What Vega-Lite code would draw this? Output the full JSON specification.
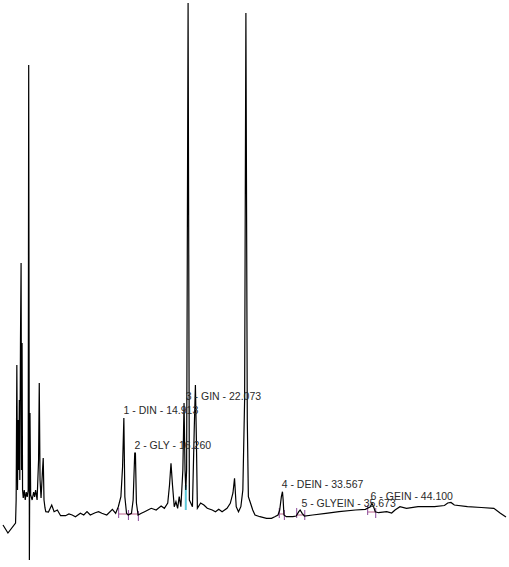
{
  "$schema": "https://vega.github.io/schema/vega-lite/v6.json",
  "width": 509,
  "height": 567,
  "padding": 0,
  "autosize": {"type": "fit", "contains": "padding"},
  "background": "white",
  "config": {"view": {"stroke": null}},
  "datasets": {
    "trace": [
      {"t": 0.692, "s": 5}, {"t": 1.273, "s": -3}, {"t": 2.169, "s": 7}, {"t": 2.239, "s": 30},
      {"t": 2.320, "s": 165}, {"t": 2.401, "s": 40}, {"t": 2.471, "s": 110}, {"t": 2.552, "s": 60},
      {"t": 2.611, "s": 130}, {"t": 2.669, "s": 50}, {"t": 2.750, "s": 190}, {"t": 2.820, "s": 267},
      {"t": 2.878, "s": 60}, {"t": 2.936, "s": 187}, {"t": 2.994, "s": 40}, {"t": 3.076, "s": 32},
      {"t": 3.192, "s": 40}, {"t": 3.308, "s": 30}, {"t": 3.425, "s": 38}, {"t": 3.541, "s": 33},
      {"t": 3.657, "s": 40}, {"t": 3.715, "s": 465}, {"t": 3.797, "s": -30}, {"t": 3.866, "s": 117},
      {"t": 3.948, "s": 35}, {"t": 4.122, "s": 30}, {"t": 4.297, "s": 38}, {"t": 4.413, "s": 33},
      {"t": 4.529, "s": 40}, {"t": 4.704, "s": 30}, {"t": 4.878, "s": 70}, {"t": 4.959, "s": 147},
      {"t": 5.052, "s": 50}, {"t": 5.169, "s": 32}, {"t": 5.343, "s": 60}, {"t": 5.425, "s": 72},
      {"t": 5.518, "s": 30}, {"t": 5.634, "s": 22}, {"t": 5.727, "s": 18.3}, {"t": 6.041, "s": 18},
      {"t": 6.425, "s": 25}, {"t": 6.704, "s": 18.3}, {"t": 7.087, "s": 20}, {"t": 7.471, "s": 14.3},
      {"t": 8.052, "s": 14.3}, {"t": 8.448, "s": 16}, {"t": 8.832, "s": 15}, {"t": 9.215, "s": 13.3},
      {"t": 9.797, "s": 16.7}, {"t": 10.192, "s": 15}, {"t": 10.576, "s": 18.3}, {"t": 10.959, "s": 15},
      {"t": 11.541, "s": 17.3}, {"t": 11.936, "s": 18.3}, {"t": 12.320, "s": 16.7}, {"t": 12.901, "s": 15},
      {"t": 13.564, "s": 20.7}, {"t": 13.948, "s": 16.7}, {"t": 14.262, "s": 23.3}, {"t": 14.564, "s": 33.3},
      {"t": 14.762, "s": 63.3}, {"t": 14.913, "s": 112}, {"t": 15.029, "s": 33.3}, {"t": 15.227, "s": 16.7},
      {"t": 15.425, "s": 15}, {"t": 15.808, "s": 16.7}, {"t": 16.006, "s": 30}, {"t": 16.192, "s": 77},
      {"t": 16.273, "s": 77}, {"t": 16.390, "s": 27}, {"t": 16.587, "s": 15}, {"t": 16.971, "s": 16.7},
      {"t": 17.355, "s": 18.3}, {"t": 17.750, "s": 20}, {"t": 18.134, "s": 21.7}, {"t": 18.715, "s": 20},
      {"t": 19.297, "s": 24}, {"t": 19.680, "s": 21.7}, {"t": 20.076, "s": 27}, {"t": 20.285, "s": 45},
      {"t": 20.459, "s": 66.7}, {"t": 20.634, "s": 45}, {"t": 20.843, "s": 23.3}, {"t": 21.041, "s": 28.3},
      {"t": 21.239, "s": 21.7}, {"t": 21.425, "s": 33.3}, {"t": 21.622, "s": 23.3}, {"t": 21.855, "s": 60},
      {"t": 21.994, "s": 127}, {"t": 22.111, "s": 60}, {"t": 22.204, "s": 40}, {"t": 22.297, "s": 60},
      {"t": 22.471, "s": 527}, {"t": 22.622, "s": 30}, {"t": 22.785, "s": 27}, {"t": 22.983, "s": 23.3},
      {"t": 23.192, "s": 100}, {"t": 23.332, "s": 145}, {"t": 23.448, "s": 90}, {"t": 23.564, "s": 21.7},
      {"t": 23.948, "s": 27}, {"t": 24.332, "s": 25}, {"t": 24.727, "s": 21.7}, {"t": 25.308, "s": 20},
      {"t": 25.692, "s": 18.3}, {"t": 26.076, "s": 20.7}, {"t": 26.471, "s": 18.3}, {"t": 27.052, "s": 21.7},
      {"t": 27.436, "s": 26.7}, {"t": 27.750, "s": 37}, {"t": 27.936, "s": 51.7}, {"t": 28.134, "s": 23.3},
      {"t": 28.401, "s": 18.3}, {"t": 28.680, "s": 23.3}, {"t": 28.913, "s": 40}, {"t": 29.122, "s": 130},
      {"t": 29.273, "s": 517}, {"t": 29.436, "s": 110}, {"t": 29.564, "s": 33.3}, {"t": 29.762, "s": 28.3},
      {"t": 30.076, "s": 20}, {"t": 30.343, "s": 15}, {"t": 30.925, "s": 13.3}, {"t": 31.704, "s": 11.7},
      {"t": 32.285, "s": 11.7}, {"t": 32.669, "s": 13.3}, {"t": 33.052, "s": 15}, {"t": 33.250, "s": 20},
      {"t": 33.448, "s": 33.3}, {"t": 33.576, "s": 38.3}, {"t": 33.657, "s": 30}, {"t": 33.750, "s": 15},
      {"t": 34.029, "s": 13.3}, {"t": 34.797, "s": 13.3}, {"t": 35.192, "s": 14}, {"t": 35.494, "s": 18.3},
      {"t": 35.657, "s": 20}, {"t": 35.890, "s": 16.7}, {"t": 36.157, "s": 14}, {"t": 37.122, "s": 15},
      {"t": 38.680, "s": 16.7}, {"t": 40.227, "s": 18.3}, {"t": 42.169, "s": 20}, {"t": 43.332, "s": 20.7},
      {"t": 43.913, "s": 23.3}, {"t": 44.099, "s": 26.7}, {"t": 44.297, "s": 23.3}, {"t": 44.494, "s": 18.3},
      {"t": 44.878, "s": 17.3}, {"t": 45.843, "s": 18.3}, {"t": 46.425, "s": 17}, {"t": 46.820, "s": 20},
      {"t": 47.401, "s": 23.3}, {"t": 48.169, "s": 21.7}, {"t": 49.529, "s": 23.3}, {"t": 51.471, "s": 23.3},
      {"t": 52.634, "s": 24.5}, {"t": 53.018, "s": 27}, {"t": 53.401, "s": 27.5}, {"t": 53.797, "s": 25},
      {"t": 55.343, "s": 23.3}, {"t": 56.971, "s": 22.5}, {"t": 58.448, "s": 21.7}, {"t": 59.215, "s": 16.7},
      {"t": 59.878, "s": 13}
    ],
    "baselines": [
      {"t1": 14.30, "t2": 15.45, "s": 16},
      {"t1": 15.50, "t2": 16.62, "s": 16},
      {"t1": 33.20, "t2": 33.80, "s": 16},
      {"t1": 35.25, "t2": 36.20, "s": 15},
      {"t1": 43.60, "t2": 44.55, "s": 18}
    ],
    "ticks": [
      {"t": 14.30, "s1": 12, "s2": 22},
      {"t": 15.45, "s1": 10, "s2": 20},
      {"t": 16.62, "s1": 9, "s2": 19},
      {"t": 33.20, "s1": 12, "s2": 22},
      {"t": 33.80, "s1": 10, "s2": 20},
      {"t": 35.25, "s1": 12, "s2": 22},
      {"t": 36.20, "s1": 10, "s2": 20},
      {"t": 43.60, "s1": 15, "s2": 25},
      {"t": 44.55, "s1": 12, "s2": 22}
    ],
    "fills": [
      {"t": 22.20, "s1": 20, "s2": 45}
    ],
    "labels": [
      {"t": 14.878, "s": 119, "label": "1 - DIN - 14.913"},
      {"t": 16.157, "s": 84, "label": "2 - GLY - 16.260"},
      {"t": 22.204, "s": 133, "label": "3 - GIN - 22.073"},
      {"t": 33.483, "s": 45, "label": "4 - DEIN - 33.567"},
      {"t": 35.808, "s": 26, "label": "5 - GLYEIN - 35.673"},
      {"t": 43.948, "s": 33, "label": "6 - GEIN - 44.100"}
    ]
  },
  "layer": [
    {
      "data": {"name": "fills"},
      "mark": {"type": "rule", "color": "#5cc8d8", "strokeWidth": 2},
      "encoding": {
        "x": {"field": "t", "type": "quantitative", "scale": {"domain": [0.692, 59.878], "nice": false, "zero": false}, "axis": null},
        "y": {"field": "s1", "type": "quantitative", "scale": {"domain": [-37, 530], "nice": false, "zero": false}, "axis": null},
        "y2": {"field": "s2"}
      }
    },
    {
      "data": {"name": "baselines"},
      "mark": {"type": "rule", "color": "#b8608c", "strokeWidth": 1},
      "encoding": {
        "x": {"field": "t1", "type": "quantitative", "scale": {"domain": [0.692, 59.878], "nice": false, "zero": false}, "axis": null},
        "x2": {"field": "t2"},
        "y": {"field": "s", "type": "quantitative", "scale": {"domain": [-37, 530], "nice": false, "zero": false}, "axis": null}
      }
    },
    {
      "data": {"name": "ticks"},
      "mark": {"type": "rule", "color": "#8a4a9a", "strokeWidth": 1},
      "encoding": {
        "x": {"field": "t", "type": "quantitative", "scale": {"domain": [0.692, 59.878], "nice": false, "zero": false}, "axis": null},
        "y": {"field": "s1", "type": "quantitative", "scale": {"domain": [-37, 530], "nice": false, "zero": false}, "axis": null},
        "y2": {"field": "s2"}
      }
    },
    {
      "data": {"name": "trace"},
      "mark": {"type": "line", "color": "#000000", "strokeWidth": 1.2, "interpolate": "linear"},
      "encoding": {
        "x": {"field": "t", "type": "quantitative", "scale": {"domain": [0.692, 59.878], "nice": false, "zero": false}, "axis": null},
        "y": {"field": "s", "type": "quantitative", "scale": {"domain": [-37, 530], "nice": false, "zero": false}, "axis": null}
      }
    },
    {
      "data": {"name": "labels"},
      "mark": {"type": "text", "align": "left", "baseline": "middle", "font": "Liberation Sans", "fontSize": 10.5, "color": "#2a2a2a"},
      "encoding": {
        "x": {"field": "t", "type": "quantitative", "scale": {"domain": [0.692, 59.878], "nice": false, "zero": false}, "axis": null},
        "y": {"field": "s", "type": "quantitative", "scale": {"domain": [-37, 530], "nice": false, "zero": false}, "axis": null},
        "text": {"field": "label"}
      }
    }
  ]
}
